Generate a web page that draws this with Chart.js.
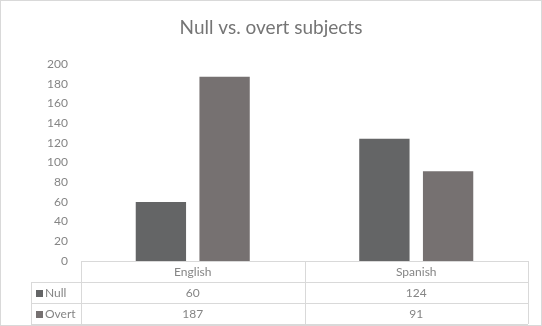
<!DOCTYPE html>
<html>
<head>
<meta charset="utf-8">
<script src="https://cdn.jsdelivr.net/npm/chart.js@4.4.1/dist/chart.umd.min.js"></script>
<style>
    html, body { margin: 0; padding: 0; background: #fff; }
    #wrap { width: 542px; height: 326px; }
</style>
</head>
<body>
<div id="wrap"><canvas id="SubjectsChart" width="542" height="326"></canvas></div>
<script>
let chartTitle = 'Null vs. overt subjects';
let languages = ['English', 'Spanish'];
let seriesNames = ['Null', 'Overt'];
let nullValues = [60, 124];
let overtValues = [187, 91];
let seriesColors = ['#646566', '#767171'];
let yMin = 0;
let yMax = 200;
let yStep = 20;

let textColor = '#858585';
let lineColor = '#d9d9d9';
let fontFamily = 'Lato, "Open Sans", sans-serif';

function crisp(v) {
    return Math.round(v) + 0.5;
}

// title centred on the whole canvas (the built-in one centres on the padded box)
let titlePlugin = {
    id: 'centredTitle',
    afterDraw: function (chart) {
        let ctx = chart.ctx;
        ctx.save();
        ctx.font = '19px ' + fontFamily;
        ctx.fillStyle = '#757575';
        ctx.textAlign = 'center';
        ctx.textBaseline = 'middle';
        ctx.fillText(chartTitle, chart.width / 2, 28);
        ctx.restore();
    }
};

// draws the Excel-style data table below the plot, from the chart's own data
let dataTablePlugin = {
    id: 'dataTable',
    afterDraw: function (chart) {
        let ctx = chart.ctx;
        let area = chart.chartArea;
        let xScale = chart.scales.x;
        let datasets = chart.data.datasets;
        let labels = chart.data.labels;
        let rowHeight = 21;
        let legendLeft = 31;
        let top = area.bottom;
        let bottom = top + rowHeight * (datasets.length + 1);

        ctx.save();
        ctx.strokeStyle = lineColor;
        ctx.lineWidth = 1;
        ctx.beginPath();
        ctx.moveTo(area.left, crisp(top));
        ctx.lineTo(area.right, crisp(top));
        for (let r = 1; r <= datasets.length + 1; r++) {
            let y = crisp(top + r * rowHeight);
            ctx.moveTo(legendLeft, y);
            ctx.lineTo(area.right, y);
        }
        ctx.moveTo(crisp(legendLeft), top + rowHeight);
        ctx.lineTo(crisp(legendLeft), bottom);
        ctx.moveTo(crisp(area.left), top);
        ctx.lineTo(crisp(area.left), bottom);
        for (let i = 1; i < labels.length; i++) {
            let x = (xScale.getPixelForValue(i - 1) + xScale.getPixelForValue(i)) / 2;
            ctx.moveTo(crisp(x), top);
            ctx.lineTo(crisp(x), bottom);
        }
        ctx.moveTo(crisp(area.right), top);
        ctx.lineTo(crisp(area.right), bottom);
        ctx.stroke();

        ctx.font = '12px ' + fontFamily;
        ctx.fillStyle = textColor;
        ctx.textAlign = 'center';
        ctx.textBaseline = 'middle';
        for (let i = 0; i < labels.length; i++) {
            ctx.fillText(labels[i], xScale.getPixelForValue(i), top + rowHeight / 2 + 1);
        }
        for (let d = 0; d < datasets.length; d++) {
            let y = top + rowHeight * (d + 1) + rowHeight / 2 + 1;
            for (let i = 0; i < labels.length; i++) {
                ctx.textAlign = 'center';
                ctx.fillStyle = textColor;
                ctx.fillText(String(datasets[d].data[i]), xScale.getPixelForValue(i), y);
            }
            ctx.fillStyle = datasets[d].backgroundColor;
            ctx.fillRect(36, Math.round(y - 4), 7, 7);
            ctx.fillStyle = textColor;
            ctx.textAlign = 'left';
            ctx.fillText(datasets[d].label, 45, y);
        }

        // outer chart border
        ctx.strokeStyle = lineColor;
        ctx.strokeRect(0.5, 0.5, chart.width - 1, chart.height - 1);
        ctx.restore();
    }
};

new Chart(document.getElementById('SubjectsChart').getContext('2d'), {
    type: 'bar',
    data: {
        labels: languages,
        datasets: [{
            label: seriesNames[0],
            data: nullValues,
            backgroundColor: seriesColors[0],
        }, {
            label: seriesNames[1],
            data: overtValues,
            backgroundColor: seriesColors[1],
        }]
    },
    options: {
        responsive: false,
        animation: false,
        categoryPercentage: 0.57,
        barPercentage: 0.79,
        layout: {
            padding: { left: 0, right: 14, top: 64, bottom: 65 }
        },
        plugins: {
            legend: { display: false },
            tooltip: { enabled: false },
            title: { display: false }
        },
        scales: {
            x: {
                display: false
            },
            y: {
                min: yMin,
                max: yMax,
                grid: { display: false, drawTicks: false },
                border: { display: false },
                ticks: {
                    stepSize: yStep,
                    padding: 13,
                    color: textColor,
                    font: { family: fontFamily, size: 12 }
                },
                afterFit: function (scale) {
                    scale.width = 81;
                }
            }
        }
    },
    plugins: [titlePlugin, dataTablePlugin]
});
</script>
</body>
</html>
